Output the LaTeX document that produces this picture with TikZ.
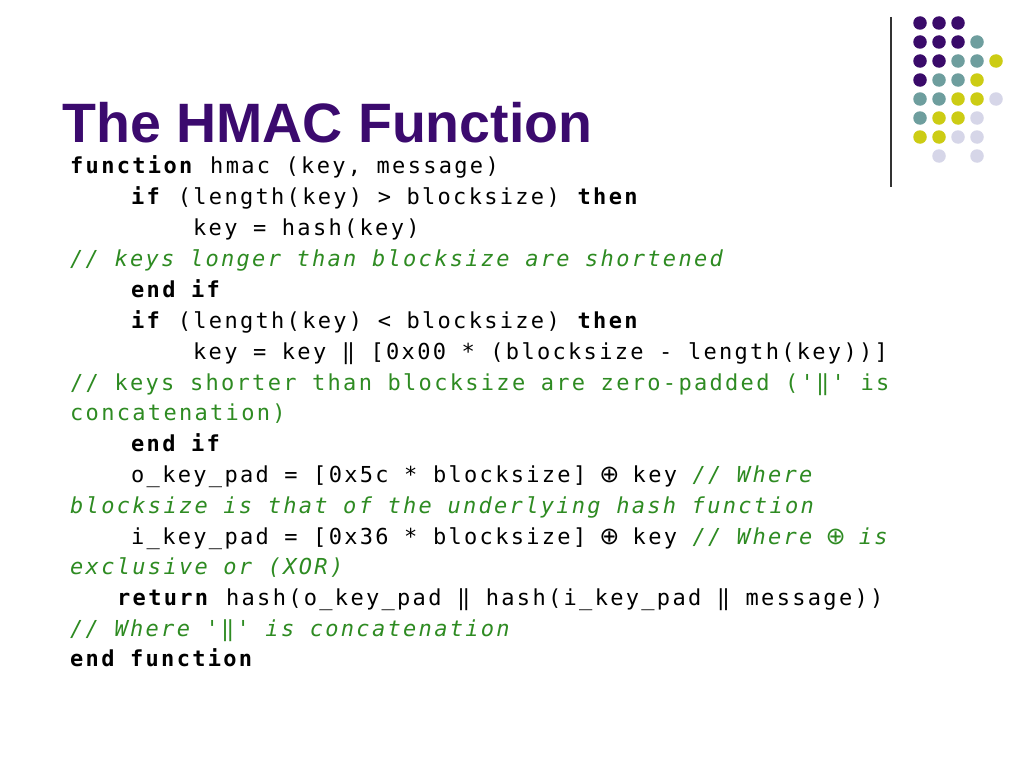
\documentclass[tikz,border=0pt]{standalone}
\usepackage{fontspec}
\setmainfont{Liberation Sans}
\newfontfamily\codefont[LetterSpace=10.5]{DejaVu Sans Mono}
\newfontfamily\symfont{DejaVu Sans}
\definecolor{tpurple}{HTML}{3B0A6E}
\definecolor{dP}{HTML}{3A0B6A}
\definecolor{dT}{HTML}{6E9E9E}
\definecolor{dY}{HTML}{CCCC14}
\definecolor{dL}{HTML}{D6D6E8}
\definecolor{cgreen}{HTML}{2E8B22}
\newcommand\xorsym{\makebox[15.3pt]{\symfont\fontsize{24}{24}\selectfont ⊕}}
\begin{document}
\begin{tikzpicture}[x=1pt,y=-1pt,
  code/.style={anchor=base west,inner sep=0pt,font=\codefont\fontsize{22}{22}\selectfont},
  dot/.style={circle,inner sep=0pt,minimum size=13.5pt}]
\useasboundingbox (0,0) rectangle (1024,768);
\fill[white] (0,0) rectangle (1024,768);
\draw[line width=1.2pt,black!80] (891,17) -- (891,187);
% dots
\foreach \r/\cols in {0/{P,P,P},1/{P,P,P,T},2/{P,P,T,T,Y},3/{P,T,T,Y},4/{T,T,Y,Y,L},5/{T,Y,Y,L},6/{Y,Y,L,L}}{
  \foreach \c [count=\i from 0] in \cols {
    \node[dot,fill=d\c] (d\r\i) at (920+19*\i,23+19*\r) {};
  }
}
\node[dot,fill=dL] (d71) at (939,156) {};
\node[dot,fill=dL] (d73) at (977,156) {};
\node[anchor=base west,inner sep=0pt,text=tpurple,font=\fontsize{55.5}{55.5}\selectfont\bfseries] (title) at (62,142) {The HMAC Function};
\newcommand\cm[1]{{\color{cgreen}\itshape #1}}
\node[code] (l1) at (70,173) {\textbf{function} hmac (key, message)};
\node[code] (l2) at (131,204) {\textbf{if} (length(key) > blocksize) \textbf{then}};
\node[code] (l3) at (193,235) {key = hash(key)};
\node[code] (l4) at (70,266) {\cm{// keys longer than blocksize are shortened}};
\node[code] (l5) at (131,297) {\textbf{end if}};
\node[code] (l6) at (131,328) {\textbf{if} (length(key) < blocksize) \textbf{then}};
\node[code] (l7) at (193,359) {key = key ‖ [0x00 * (blocksize - length(key))]};
\node[code] (l8) at (70,390) {\color{cgreen}// keys shorter than blocksize are zero-padded ('‖' is};
\node[code] (l9) at (70,420) {\color{cgreen}concatenation)};
\node[code] (l10) at (131,451) {\textbf{end if}};
\node[code] (l11) at (131,482) {o\_key\_pad = [0x5c * blocksize] \xorsym{} key \cm{// Where}};
\node[code] (l12) at (70,513) {\cm{blocksize is that of the underlying hash function}};
\node[code] (l13) at (131,544) {i\_key\_pad = [0x36 * blocksize] \xorsym{} key \cm{// Where {\color{cgreen}\xorsym} is}};
\node[code] (l14) at (70,574) {\cm{exclusive or (XOR)}};
\node[code] (l15) at (117,605) {\textbf{return} hash(o\_key\_pad ‖ hash(i\_key\_pad ‖ message))};
\node[code] (l16) at (70,636) {\cm{// Where '‖' is concatenation}};
\node[code] (l17) at (70,666) {\textbf{end function}};
\end{tikzpicture}
\end{document}
